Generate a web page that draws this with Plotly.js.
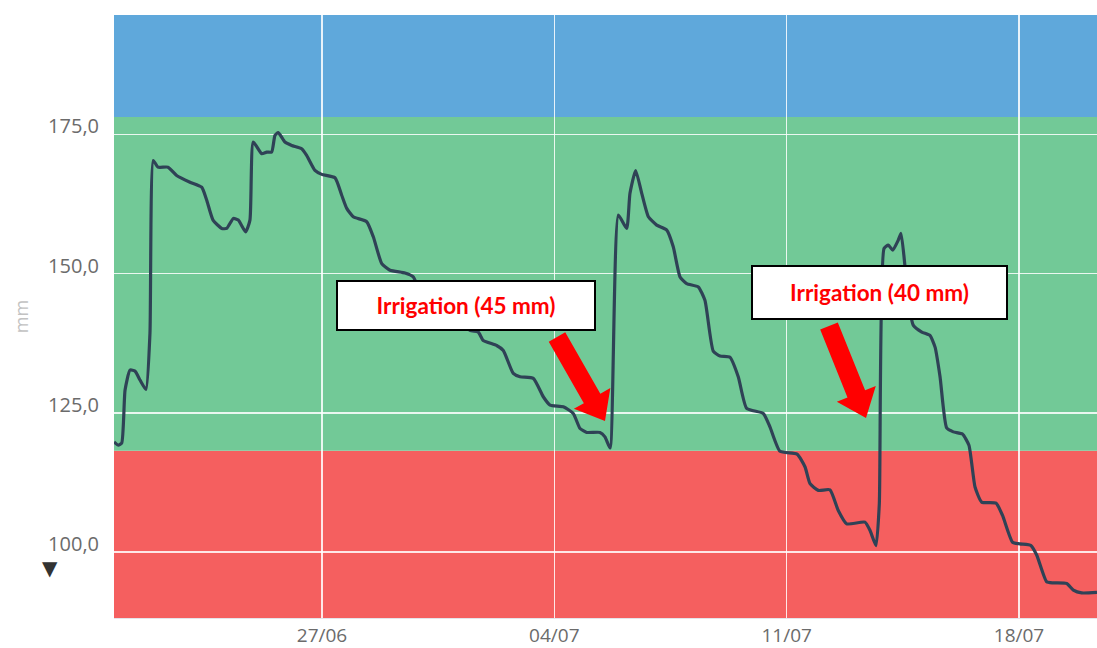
<!DOCTYPE html>
<html>
<head>
<meta charset="utf-8">
<script src="https://cdn.plot.ly/plotly-3.0.1.min.js"></script>
<style>html,body{margin:0;padding:0;background:#fff;}#chart{width:1097px;height:648px;}</style>
</head>
<body>
<div id="chart"></div>
<script>
// ---- data ----
const dates = [
'2021-06-20 17:36','2021-06-20 20:42','2021-06-20 23:12','2021-06-21 01:36','2021-06-21 05:12','2021-06-21 08:48',
'2021-06-21 12:24','2021-06-21 16:42','2021-06-21 19:36','2021-06-21 22:00','2021-06-22 01:24','2021-06-22 08:36',
'2021-06-22 14:54','2021-06-23 00:33','2021-06-23 09:00','2021-06-23 12:36','2021-06-23 17:12','2021-06-23 23:30',
'2021-06-24 03:06','2021-06-24 07:54','2021-06-24 11:30','2021-06-24 16:48','2021-06-24 19:54','2021-06-24 22:18',
'2021-06-25 04:24','2021-06-25 08:00','2021-06-25 11:36','2021-06-25 14:00','2021-06-25 16:24','2021-06-25 21:12',
'2021-06-26 02:06','2021-06-26 09:18','2021-06-26 12:54','2021-06-26 18:54','2021-06-26 23:48','2021-06-27 09:24',
'2021-06-27 14:12','2021-06-27 17:54','2021-06-27 22:36','2021-06-28 08:18','2021-06-28 13:06','2021-06-28 19:12',
'2021-06-29 01:12','2021-06-29 12:00','2021-06-29 18:00','2021-06-30 00:18','2021-06-30 11:54','2021-06-30 17:42',
'2021-07-01 05:12','2021-07-01 11:00','2021-07-01 17:00','2021-07-01 20:36','2021-07-02 06:18','2021-07-02 11:06',
'2021-07-02 18:18','2021-07-02 23:12','2021-07-03 08:48','2021-07-03 16:00','2021-07-03 20:54','2021-07-04 06:30',
'2021-07-04 13:42','2021-07-04 18:36','2021-07-04 23:24','2021-07-05 09:00','2021-07-05 12:36','2021-07-05 16:18',
'2021-07-05 22:18','2021-07-06 04:18','2021-07-06 06:42','2021-07-06 10:48','2021-07-06 15:12','2021-07-06 20:00',
'2021-07-07 02:00','2021-07-07 09:18','2021-07-07 14:00','2021-07-07 18:54','2021-07-07 23:42','2021-07-08 08:06',
'2021-07-08 12:54','2021-07-08 18:54','2021-07-08 23:48','2021-07-09 07:00','2021-07-09 13:00','2021-07-09 19:06',
'2021-07-10 07:06','2021-07-10 11:54','2021-07-10 19:12','2021-07-11 07:30','2021-07-11 13:18','2021-07-11 16:54',
'2021-07-11 22:54','2021-07-12 07:18','2021-07-12 13:18','2021-07-12 19:24','2021-07-13 08:36','2021-07-13 12:18',
'2021-07-13 16:36','2021-07-13 19:00','2021-07-13 22:24','2021-07-14 01:30','2021-07-14 04:42','2021-07-14 08:42',
'2021-07-14 10:42','2021-07-14 13:36','2021-07-14 16:30','2021-07-14 19:36','2021-07-15 01:42','2021-07-15 07:36',
'2021-07-15 11:18','2021-07-15 14:54','2021-07-15 19:42','2021-07-16 00:30','2021-07-16 07:06','2021-07-16 11:48',
'2021-07-16 16:12','2021-07-16 21:00','2021-07-17 07:24','2021-07-17 12:06','2021-07-17 19:18','2021-07-18 00:42',
'2021-07-18 08:42','2021-07-18 12:48','2021-07-18 20:00','2021-07-19 00:48','2021-07-19 10:30','2021-07-19 15:18',
'2021-07-19 21:18','2021-07-20 08:24'
];
const waterMm = [
119.8,119.2,119.6,129.1,132.7,132.5,
130.9,129.2,139.3,170.3,169.1,169.1,
167.6,166.4,165.5,163.2,159.6,158.1,
158.1,159.9,159.6,157.5,159.6,173.6,
171.5,171.8,171.8,174.8,175.3,173.6,
173.0,172.4,171.2,168.5,167.8,167.2,
164.1,161.7,160.2,159.3,156.6,151.8,
150.6,150.1,149.4,146.1,145.2,142.3,
141.6,139.8,139.5,138.0,137.1,136.2,
132.1,131.5,131.2,127.9,126.4,126.1,
124.9,122.2,121.5,121.5,120.7,118.7,
160.5,158.1,164.4,168.5,164.4,160.2,
158.7,157.8,154.8,149.4,148.2,147.6,
145.2,136.1,135.2,135.0,131.5,125.8,
124.9,122.5,118.1,117.6,115.3,112.3,
111.1,111.2,107.5,105.1,105.4,103.9,
101.2,108.7,154.5,155.1,154.2,156.0,
157.2,151.2,144.3,140.7,139.5,138.9,
136.8,131.5,122.3,121.6,121.2,119.2,
111.7,109.0,108.8,106.6,101.8,101.5,
101.2,99.5,94.7,94.5,94.4,93.2,
92.7,92.8
];
// zone limits (mm): red below, green middle, blue top
const zoneLimits = [88.2, 118.2, 178.1, 196.4];
const zoneColors = ['#f55f5f', '#72c997', '#5fa8db'];
const yTicks = [100, 125, 150, 175];
const xTicks = ['2021-06-27', '2021-07-04', '2021-07-11', '2021-07-18'];
const xRange = ['2021-06-20 17:36', '2021-07-20 08:24'];
const notes = ['Irrigation (45 mm)', 'Irrigation (40 mm)'];

// ---- layout helpers (pixel -> paper) ----
const W = 1097, H = 648, L = 114, R = 0, T = 15, B = 30;
const PW = W - L - R, PH = H - T - B;
const px = x => (x - L) / PW;
const py = y => (H - B - y) / PH;

function arrowPath(tx, ty, hx, hy, sw, hw, hl) {
  const dx = hx - tx, dy = hy - ty, len = Math.hypot(dx, dy);
  const ux = dx / len, uy = dy / len, nx = -uy, ny = ux;
  const bx = hx - hl * ux, by = hy - hl * uy;
  const pts = [
    [tx + sw * nx, ty + sw * ny], [bx + sw * nx, by + sw * ny], [bx + hw * nx, by + hw * ny],
    [hx, hy], [bx - hw * nx, by - hw * ny], [bx - sw * nx, by - sw * ny], [tx - sw * nx, ty - sw * ny]
  ];
  return 'M' + pts.map(p => px(p[0]).toFixed(5) + ',' + py(p[1]).toFixed(5)).join('L') + 'Z';
}

const shapes = [];
for (let i = 0; i < zoneColors.length; i++) {
  shapes.push({type: 'rect', xref: 'paper', yref: 'y', x0: 0, x1: 1,
    y0: zoneLimits[i], y1: zoneLimits[i + 1], fillcolor: zoneColors[i], line: {width: 0}, layer: 'below'});
}
shapes.push({type: 'path', xref: 'paper', yref: 'paper', path: arrowPath(557, 337, 605, 421, 9.5, 21, 26),
  fillcolor: '#ff0000', line: {width: 0}, layer: 'above'});
shapes.push({type: 'path', xref: 'paper', yref: 'paper', path: arrowPath(829, 326, 866, 418, 9.5, 21, 26),
  fillcolor: '#ff0000', line: {width: 0}, layer: 'above'});

const trace = {
  x: dates, y: waterMm, type: 'scatter', mode: 'lines',
  line: {color: '#2f4256', width: 3.2, shape: 'spline', smoothing: 0.5}, hoverinfo: 'skip'
};

const layout = {
  width: W, height: H,
  margin: {l: L, r: R, t: T, b: B, pad: 0},
  paper_bgcolor: '#ffffff', plot_bgcolor: 'rgba(0,0,0,0)',
  showlegend: false,
  separators: ',.',
  font: {family: 'Open Sans, sans-serif', color: '#6b6b6b', size: 20},
  xaxis: {
    type: 'date', range: xRange, tickvals: xTicks, tickformat: '%d/%m',
    showgrid: true, gridcolor: 'rgba(255,255,255,0.85)', gridwidth: 1.5,
    zeroline: false, showline: true, linecolor: '#e4e4ea', linewidth: 1,
    ticks: '', ticklabelstandoff: 0, tickfont: {size: 19, color: '#6b6b6b'}
  },
  yaxis: {
    range: [zoneLimits[0], zoneLimits[3]], tickvals: yTicks, tickformat: '.1f',
    showgrid: true, gridcolor: 'rgba(255,255,255,0.85)', gridwidth: 1.5,
    zeroline: false, showline: false, ticks: '', ticklabelstandoff: 14, ticklabelshift: -8,
    tickfont: {size: 20, color: '#6b6b6b'},
    title: {text: 'mm', font: {size: 18, color: '#c2c2c2'}, standoff: 14}
  },
  shapes: shapes,
  annotations: [
    {xref: 'paper', yref: 'paper', x: px(466), y: py(305.5), xanchor: 'center', yanchor: 'middle',
     text: '<b>' + notes[0] + '</b>', showarrow: false, bgcolor: '#ffffff', bordercolor: '#000000',
     borderwidth: 2, borderpad: 0, width: 256, height: 47,
     font: {family: 'Lato, sans-serif', size: 22.5, color: '#ff0000'}},
    {xref: 'paper', yref: 'paper', x: px(879.5), y: py(292.5), xanchor: 'center', yanchor: 'middle',
     text: '<b>' + notes[1] + '</b>', showarrow: false, bgcolor: '#ffffff', bordercolor: '#000000',
     borderwidth: 2, borderpad: 0, width: 253, height: 51,
     font: {family: 'Lato, sans-serif', size: 22.5, color: '#ff0000'}},
    {xref: 'paper', yref: 'paper', x: px(50), y: py(568), xanchor: 'center', yanchor: 'middle',
     text: '▼', showarrow: false, font: {family: 'DejaVu Sans', size: 20, color: '#333333'}}
  ]
};

Plotly.newPlot('chart', [trace], layout, {displayModeBar: false, staticPlot: true});
</script>
</body>
</html>
